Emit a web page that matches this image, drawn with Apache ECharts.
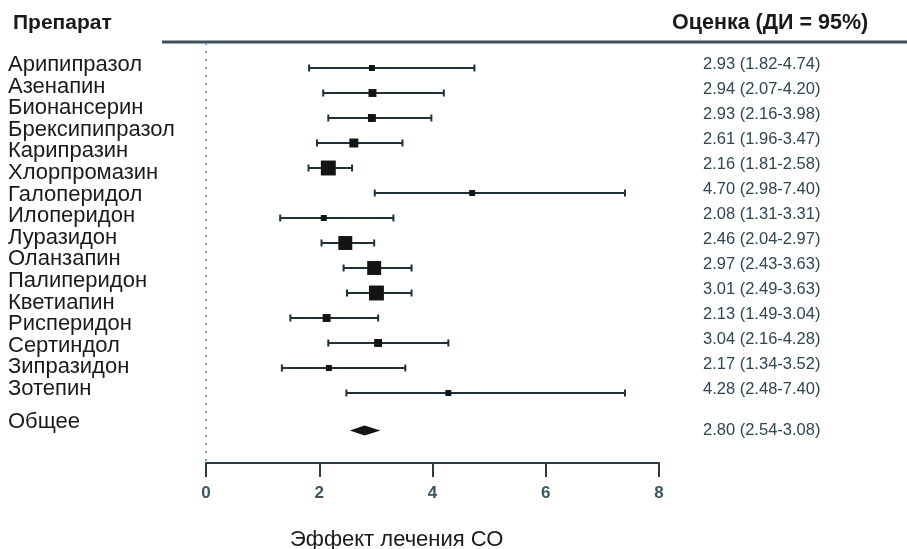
<!DOCTYPE html>
<html>
<head>
<meta charset="utf-8">
<script src="https://cdn.jsdelivr.net/npm/echarts@6/dist/echarts.min.js"></script>
<style>html,body{margin:0;padding:0;background:#fff}#c{width:907px;height:549px}</style>
</head>
<body>
<div id="c"></div>
<script>
// ---- data ----
const drugLabels = ['Арипипразол','Азенапин','Бионансерин','Брексипипразол','Карипразин','Хлорпромазин','Галоперидол','Илоперидон','Луразидон','Оланзапин','Палиперидон','Кветиапин','Рисперидон','Сертиндол','Зипразидон','Зотепин'];
const overallLabel = 'Общее';
const estimates = [2.93,2.94,2.93,2.61,2.16,4.70,2.08,2.46,2.97,3.01,2.13,3.04,2.17,4.28];
const lowerCI   = [1.82,2.07,2.16,1.96,1.81,2.98,1.31,2.04,2.43,2.49,1.49,2.16,1.34,2.48];
const upperCI   = [4.74,4.20,3.98,3.47,2.58,7.40,3.31,2.97,3.63,3.63,3.04,4.28,3.52,7.40];
const weights   = [2.6,4.6,4.6,5.9,16.3,2.6,2.6,14.2,14.2,16.3,4.6,4.6,2.6,2.6];
const overallEst = 2.80, overallLower = 2.54, overallUpper = 3.08;
const xTicks = [0,2,4,6,8];
const headerLeft = 'Препарат';
const headerRight = 'Оценка (ДИ = 95%)';
const xTitle = 'Эффект лечения СО';

// ---- helpers ----
const fmt = (e,l,u) => e.toFixed(2) + ' (' + l.toFixed(2) + '-' + u.toFixed(2) + ')';
const FONT = '"Liberation Sans", Arial, Helvetica, sans-serif';
const lineColor = '#1f3038';
const textColor = '#2f4550';

const studyData = estimates.map((e,i) => [lowerCI[i], e, upperCI[i], i, weights[i], fmt(e, lowerCI[i], upperCI[i])]);
const overallRow = estimates.length + 0.5;
const overallData = [[overallLower, overallEst, overallUpper, overallRow, 0, fmt(overallEst, overallLower, overallUpper)]];

const chart = echarts.init(document.getElementById('c'), null, {renderer:'canvas'});

const graphics = [];
graphics.push({type:'text', x:13, y:23, style:{text:headerLeft, font:'bold 21px ' + FONT, fill:'#1a1a1a', verticalAlign:'middle'}});
graphics.push({type:'text', x:672, y:23, style:{text:headerRight, font:'bold 21.5px ' + FONT, fill:'#1a1a1a', verticalAlign:'middle'}});
graphics.push({type:'line', shape:{x1:162, y1:42, x2:907, y2:42}, style:{stroke:'#3e5056', lineWidth:3}});
drugLabels.forEach((t,i) => {
  graphics.push({type:'text', x:8, y:65 + 21.6*i, style:{text:t, font:'22px ' + FONT, fill:'#1a1a1a', verticalAlign:'middle'}});
});
graphics.push({type:'text', x:8, y:422, style:{text:overallLabel, font:'22px ' + FONT, fill:'#1a1a1a', verticalAlign:'middle'}});
graphics.push({type:'text', x:290, y:540, style:{text:xTitle, font:'22px ' + FONT, fill:'#1a1a1a', verticalAlign:'middle'}});

chart.setOption({
  animation:false,
  backgroundColor:'#fff',
  grid:{left:206, right:248, top:43, bottom:86},
  xAxis:{
    type:'value', min:xTicks[0], max:xTicks[xTicks.length-1], interval:2,
    axisLine:{show:true, onZero:false, lineStyle:{color:'#2a3c44', width:2}},
    axisTick:{show:true, length:14, lineStyle:{color:'#2a3c44', width:2}},
    axisLabel:{fontSize:17, fontWeight:'bold', color:'#3a5562', margin:22, fontFamily:FONT},
    splitLine:{show:false}
  },
  yAxis:{type:'value', inverse:true, min:-1, max:15.8, show:false},
  graphic:graphics,
  series:[
    {
      type:'custom',
      data:studyData,
      renderItem:function(params, api){
        const lo = api.value(0), est = api.value(1), hi = api.value(2), row = api.value(3), w = api.value(4);
        const y = api.coord([0,row])[1];
        const xl = api.coord([lo,row])[0], xe = api.coord([est,row])[0], xh = api.coord([hi,row])[0];
        const s = Math.sqrt(w) * 3.7;
        const cap = 3.5;
        return {type:'group', children:[
          {type:'line', shape:{x1:xl, y1:y, x2:xh, y2:y}, style:{stroke:lineColor, lineWidth:2}},
          {type:'line', shape:{x1:xl, y1:y-cap, x2:xl, y2:y+cap}, style:{stroke:lineColor, lineWidth:2}},
          {type:'line', shape:{x1:xh, y1:y-cap, x2:xh, y2:y+cap}, style:{stroke:lineColor, lineWidth:2}},
          {type:'rect', shape:{x:xe - s/2, y:y - s/2, width:s, height:s}, style:{fill:'#141414'}},
          {type:'text', x:703, y:y-4, style:{text:studyData[params.dataIndex][5], font:'16.5px ' + FONT, fill:textColor, verticalAlign:'middle'}}
        ]};
      },
      markLine:{
        silent:true, symbol:'none',
        label:{show:false},
        lineStyle:{color:'#5fa3cf', width:2, type:[2,6]},
        data:[{xAxis:0}]
      },
      z:3
    },
    {
      type:'custom',
      data:overallData,
      renderItem:function(params, api){
        const lo = api.value(0), est = api.value(1), hi = api.value(2), row = api.value(3);
        const y = api.coord([0,row])[1];
        const xl = api.coord([lo,row])[0], xe = api.coord([est,row])[0], xh = api.coord([hi,row])[0];
        const h = 5;
        return {type:'group', children:[
          {type:'polygon', shape:{points:[[xl,y],[xe,y-h],[xh,y],[xe,y+h]]}, style:{fill:'#141414'}},
          {type:'text', x:703, y:y, style:{text:overallData[0][5], font:'16.5px ' + FONT, fill:textColor, verticalAlign:'middle'}}
        ]};
      },
      z:3
    }
  ]
});
</script>
</body>
</html>
